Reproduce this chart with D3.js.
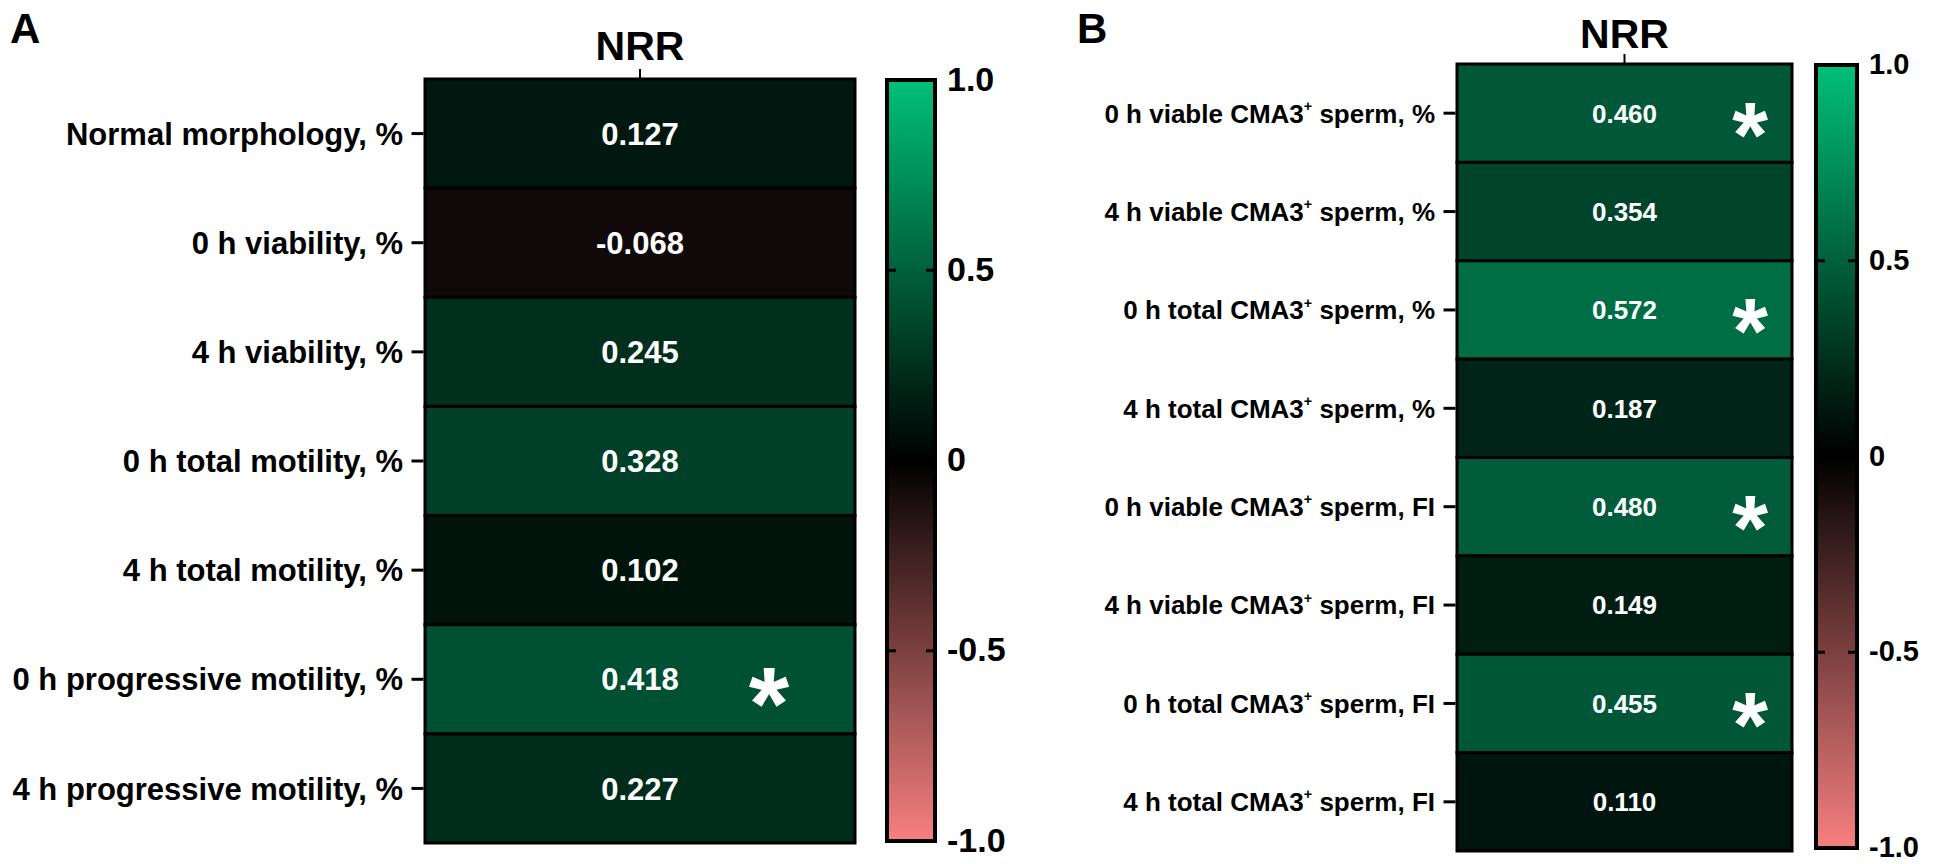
<!DOCTYPE html>
<html>
<head>
<meta charset="utf-8">
<script src="https://cdn.jsdelivr.net/npm/d3@7"></script>
<style>
  body { margin: 0; background: #fff; }
  text { font-family: "Liberation Sans", Arial, sans-serif; font-weight: bold; }
</style>
</head>
<body>
<svg id="chart"></svg>
<script>
// panel A
const labelsA = ["Normal morphology, %", "0 h viability, %", "4 h viability, %",
  "0 h total motility, %", "4 h total motility, %", "0 h progressive motility, %",
  "4 h progressive motility, %"];
const valuesA = [0.127, -0.068, 0.245, 0.328, 0.102, 0.418, 0.227];
const starsA = [false, false, false, false, false, true, false];

// panel B (the "+" is drawn as superscript)
const labelsB = [
  ["0 h viable CMA3", " sperm, %"], ["4 h viable CMA3", " sperm, %"],
  ["0 h total CMA3", " sperm, %"], ["4 h total CMA3", " sperm, %"],
  ["0 h viable CMA3", " sperm, FI"], ["4 h viable CMA3", " sperm, FI"],
  ["0 h total CMA3", " sperm, FI"], ["4 h total CMA3", " sperm, FI"]];
const valuesB = [0.460, 0.354, 0.572, 0.187, 0.480, 0.149, 0.455, 0.110];
const starsB = [true, false, true, false, true, false, true, false];

const colTitle = "NRR";
const barTicks = [-1, -0.5, 0, 0.5, 1];
const barTickText = ["-1.0", "-0.5", "0", "0.5", "1.0"];

const width = 1946, height = 864;
const svg = d3.select("#chart")
    .attr("width", width)
    .attr("height", height)
    .attr("viewBox", [0, 0, width, height]);

const color = d3.scaleLinear()
    .domain([-1, 0, 1])
    .range(["rgb(248,128,128)", "#000000", "rgb(0,192,121)"]);

// gradient for both legends
const grad = svg.append("defs").append("linearGradient")
    .attr("id", "cbar")
    .attr("x1", 0).attr("y1", 1).attr("x2", 0).attr("y2", 0);
grad.selectAll("stop")
  .data(d3.range(-1, 1.001, 0.1))
  .join("stop")
    .attr("offset", d => (d + 1) / 2)
    .attr("stop-color", d => color(d));

function panel(o) {
  const g = svg.append("g");

  const y = d3.scaleBand()
      .domain(d3.range(o.values.length))
      .range([o.top, o.bottom]);

  // panel letter
  g.append("text")
      .attr("x", o.letterX).attr("y", 43)
      .attr("font-size", 42)
      .text(o.letter);

  // column title + tick
  const cx = (o.left + o.right) / 2;
  g.append("text")
      .attr("x", cx).attr("y", o.titleY)
      .attr("text-anchor", "middle")
      .attr("font-size", 41)
      .text(colTitle);
  g.append("line")
      .attr("x1", cx).attr("x2", cx)
      .attr("y1", o.top - 10).attr("y2", o.top)
      .attr("stroke", "#000").attr("stroke-width", 2);

  // cells
  g.append("g")
    .selectAll("rect")
    .data(o.values)
    .join("rect")
      .attr("x", o.left)
      .attr("y", (d, i) => y(i))
      .attr("width", o.right - o.left)
      .attr("height", y.bandwidth())
      .attr("fill", d => color(d))
      .attr("stroke", "#000")
      .attr("stroke-width", 3);

  // values
  g.append("g")
    .selectAll("text")
    .data(o.values)
    .join("text")
      .attr("x", cx)
      .attr("y", (d, i) => y(i) + y.bandwidth() / 2)
      .attr("dy", "0.36em")
      .attr("text-anchor", "middle")
      .attr("fill", "#fff")
      .attr("font-size", o.fs)
      .text(d => d3.format(".3f")(d).replace("−", "-"));

  // stars
  g.append("g")
    .selectAll("text")
    .data(o.values.map((d, i) => i).filter(i => o.stars[i]))
    .join("text")
      .attr("x", o.left + (o.right - o.left) * o.starPos)
      .attr("y", i => y(i) + y.bandwidth() / 2 + o.starFs * 0.58)
      .attr("text-anchor", "middle")
      .attr("fill", "#fff")
      .attr("font-size", o.starFs)
      .text("*");

  // row axis
  const ax = g.append("g")
      .attr("transform", `translate(${o.left - 1.5},0)`)
      .call(d3.axisLeft(y).tickSize(12).tickPadding(10).tickFormat(() => ""));
  ax.select(".domain").remove();
  ax.selectAll(".tick line").attr("stroke-width", 3);
  ax.selectAll(".tick text").remove();
  const lab = g.append("g")
    .selectAll("text")
    .data(o.labels)
    .join("text")
      .attr("x", o.left - 22)
      .attr("y", (d, i) => y(i) + y.bandwidth() / 2)
      .attr("dy", "0.36em")
      .attr("text-anchor", "end")
      .attr("font-size", o.fs);
  lab.each(function(d) {
    const t = d3.select(this);
    if (Array.isArray(d)) {
      t.append("tspan").text(d[0]);
      t.append("tspan").attr("font-size", o.fs * 0.55).attr("dy", -o.fs * 0.45).text("+");
      t.append("tspan").attr("dy", o.fs * 0.45).text(d[1]);
    } else {
      t.text(d);
    }
  });

  // colour bar
  const cb = d3.scaleLinear().domain([-1, 1]).range([o.cbBottom, o.cbTop]);
  g.append("rect")
      .attr("x", o.cbLeft).attr("y", o.cbTop)
      .attr("width", o.cbRight - o.cbLeft)
      .attr("height", o.cbBottom - o.cbTop)
      .attr("fill", "url(#cbar)")
      .attr("stroke", "#000")
      .attr("stroke-width", 4);
  const inner = g.append("g")
    .selectAll("g")
    .data(barTicks.slice(1, -1))
    .join("g");
  inner.append("line")
      .attr("x1", o.cbLeft).attr("x2", o.cbLeft + 9)
      .attr("y1", d => cb(d)).attr("y2", d => cb(d))
      .attr("stroke", "#000").attr("stroke-width", 3);
  inner.append("line")
      .attr("x1", o.cbRight - 9).attr("x2", o.cbRight)
      .attr("y1", d => cb(d)).attr("y2", d => cb(d))
      .attr("stroke", "#000").attr("stroke-width", 3);
  const cax = g.append("g")
      .attr("transform", `translate(${o.cbRight},0)`)
      .call(d3.axisRight(cb).tickValues(barTicks).tickSize(0).tickPadding(o.cbPad)
        .tickFormat((d, i) => barTickText[i]));
  cax.select(".domain").remove();
  cax.selectAll(".tick text")
      .attr("dy", "0.3em")
      .attr("font-size", o.cbFs)
      .attr("font-family", "'Liberation Sans', Arial, sans-serif")
      .attr("font-weight", "bold")
      .attr("fill", "#000");
}

panel({
  letter: "A", letterX: 10, titleY: 60,
  labels: labelsA, values: valuesA, stars: starsA,
  left: 425, right: 855, top: 79, bottom: 843, fs: 31,
  starPos: 0.8, starFs: 104,
  cbLeft: 887, cbRight: 935, cbTop: 80, cbBottom: 841, cbFs: 34, cbPad: 12
});

panel({
  letter: "B", letterX: 1077, titleY: 48,
  labels: labelsB, values: valuesB, stars: starsB,
  left: 1457, right: 1792, top: 64, bottom: 851, fs: 26,
  starPos: 0.875, starFs: 92,
  cbLeft: 1816, cbRight: 1857, cbTop: 65, cbBottom: 848, cbFs: 29, cbPad: 12
});
</script>
</body>
</html>
